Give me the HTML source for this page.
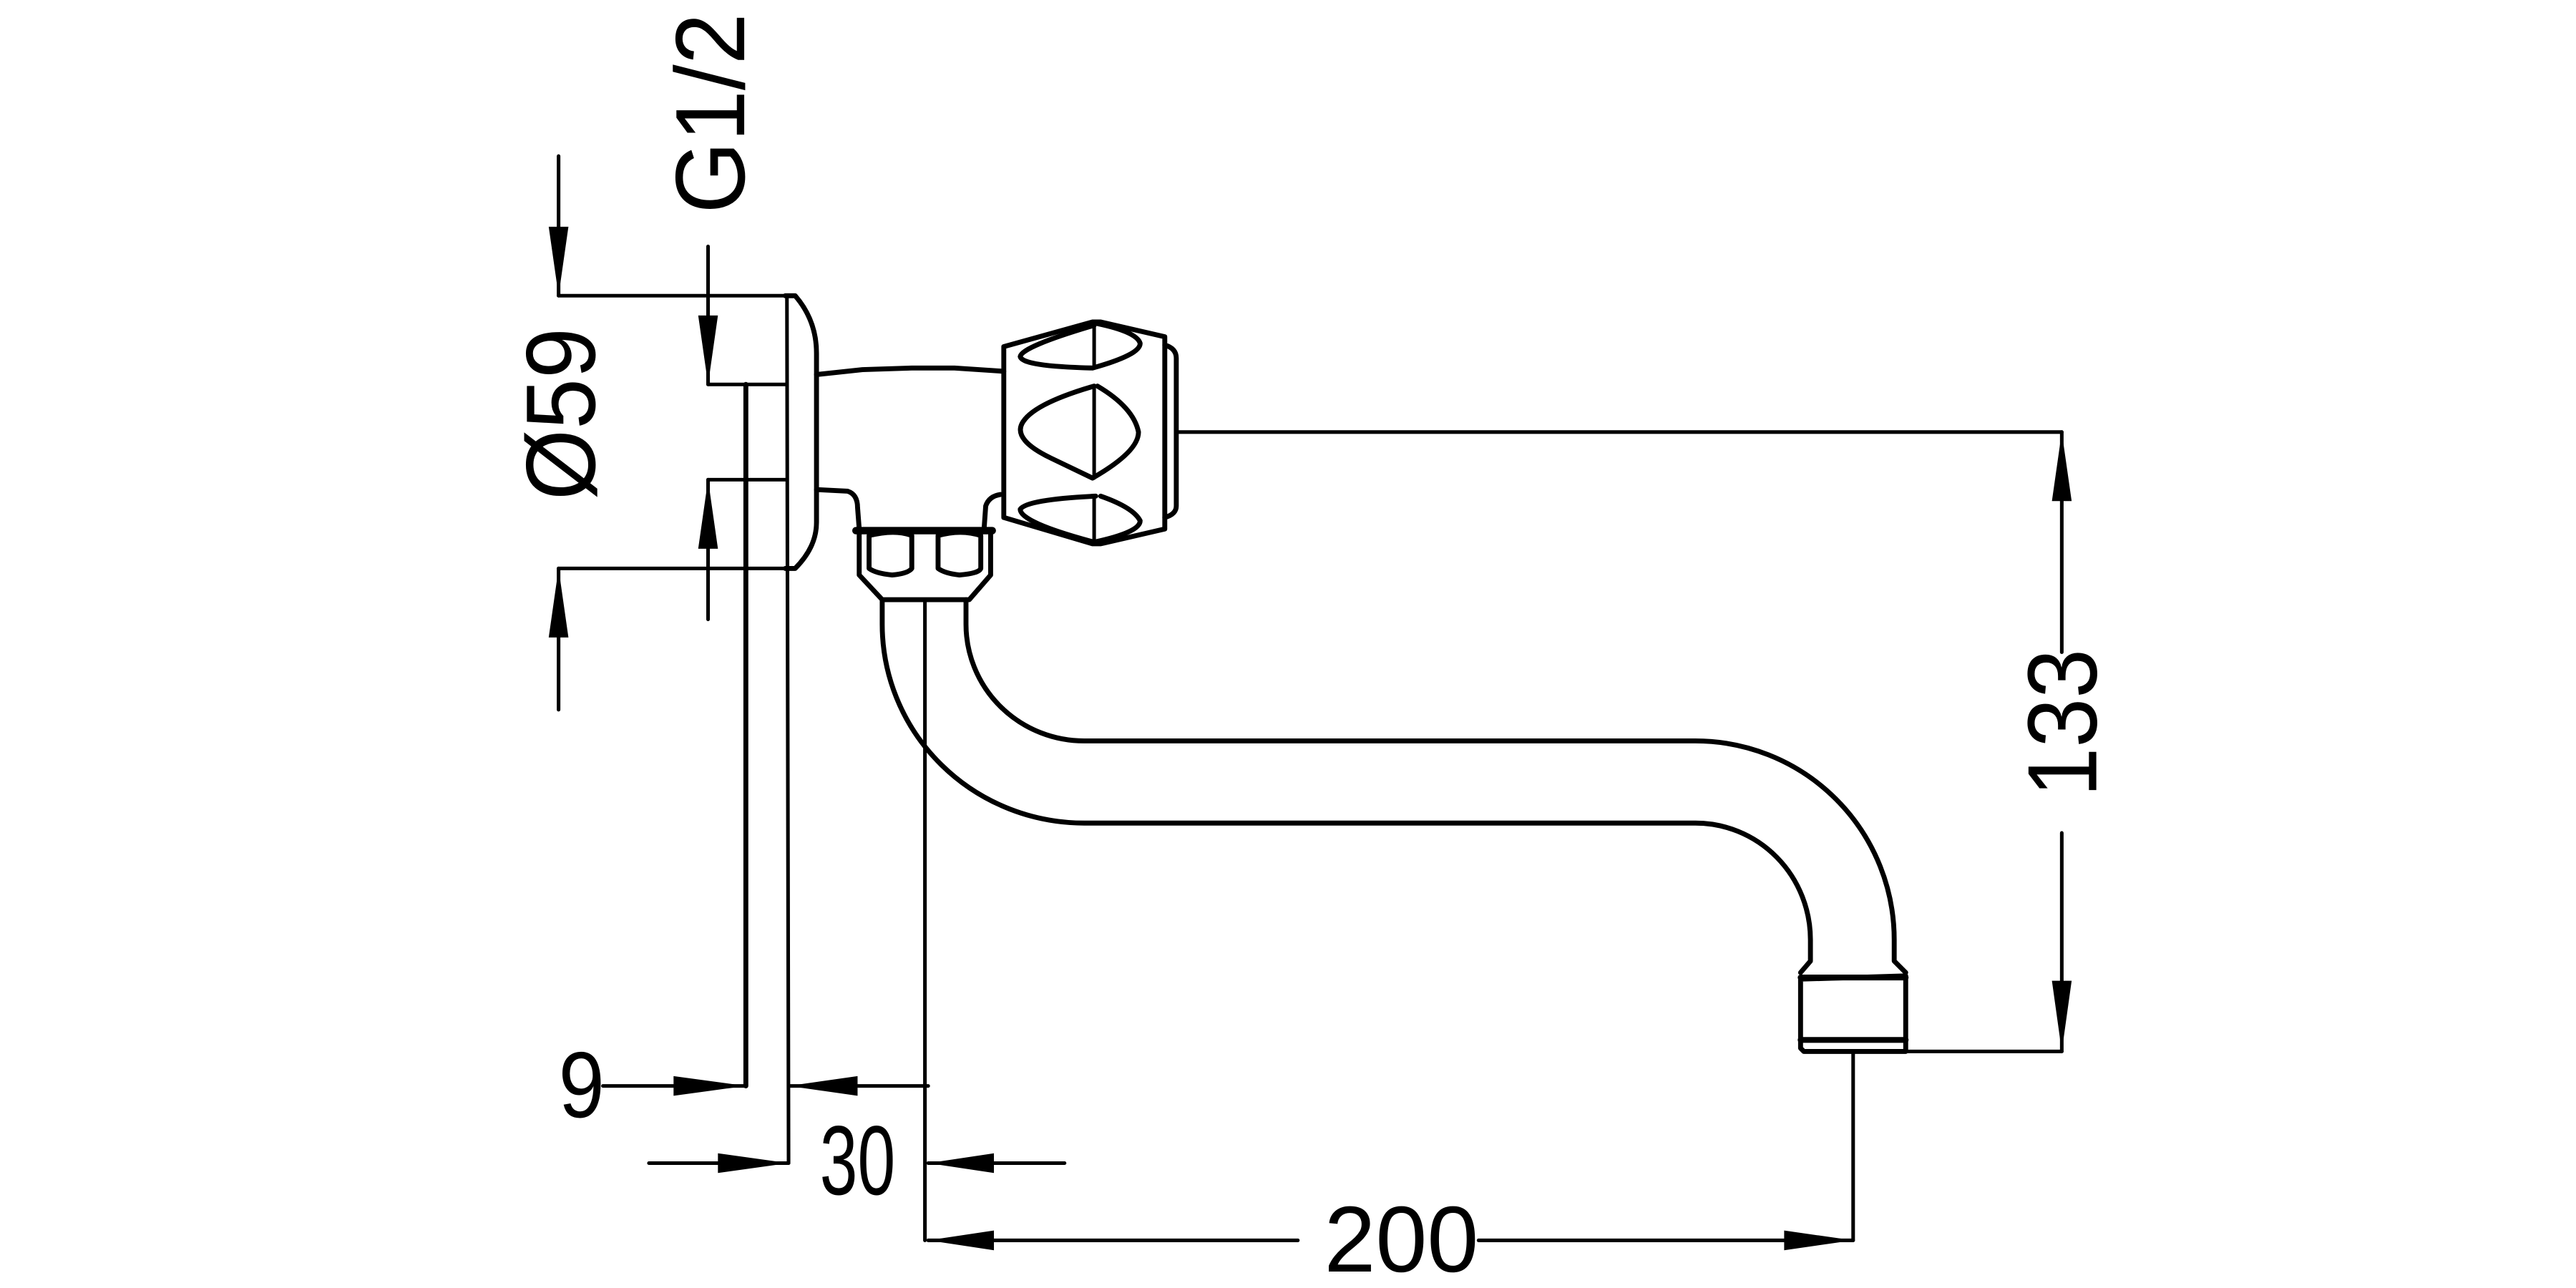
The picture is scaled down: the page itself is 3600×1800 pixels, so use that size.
<!DOCTYPE html>
<html><head><meta charset="utf-8"><style>
html,body{margin:0;padding:0;background:#fff;}
svg{display:block;}
text{font-family:"Liberation Sans",sans-serif;fill:#000;}
</style></head><body>
<svg width="3600" height="1800" viewBox="0 0 1568 784" xmlns="http://www.w3.org/2000/svg">
<g fill="none" stroke="#000" stroke-width="2.2" stroke-linejoin="round" stroke-linecap="round">
<!-- Ø59 dim -->
<line x1="340" y1="95" x2="340" y2="180"/>
<line x1="340" y1="180" x2="478" y2="180"/>
<line x1="340" y1="346" x2="478" y2="346"/>
<line x1="340" y1="346" x2="340" y2="432"/>
<!-- G1/2 dim -->
<line x1="431" y1="150" x2="431" y2="234"/>
<line x1="431" y1="234" x2="478" y2="234"/>
<line x1="431" y1="292" x2="478" y2="292"/>
<line x1="431" y1="292" x2="431" y2="377"/>
<!-- wall plate -->
<line x1="479" y1="180" x2="480" y2="708"/>
<line x1="454" y1="234" x2="454" y2="661" stroke-width="3"/>
<path d="M478,180 L484,180 Q497,195 497,215 L497,318 Q497,333 484,346 L478,346" stroke-width="3"/>
<!-- body -->
<path d="M497,228 L525,225 L555,224 L581,224 L611,226" stroke-width="3"/>
<path d="M497,298 L516,299 Q522,301 522,309 L523,322" stroke-width="3"/>
<path d="M599,322 L600,308 Q602,302 609,301" stroke-width="3"/>
<!-- nut -->
<line x1="521" y1="323" x2="604" y2="323" stroke-width="4.5"/>
<path d="M523,323 L523,350 L537,365 L590,365 L603,350 L603,323" stroke-width="3"/>
<path d="M529,326 L529,346 Q533,349 543,350 Q553,349 555,346 L555,326 Q545,322 529,326 Z" stroke-width="3"/>
<path d="M571,326 L571,346 Q575,349 584,350 Q596,349 597,346 L597,326 Q585,322 571,326 Z" stroke-width="3"/>
<!-- pipe -->
<path d="M537,365 L537,380 A123,121 0 0 0 660,501 L1032,501 A70,71 0 0 1 1102,572 L1102,585 L1096,592" stroke-width="3"/>
<path d="M588,365 L588,380 A72,71 0 0 0 660,451 L1032,451 A121,121 0 0 1 1153,572 L1153,585 L1160,592" stroke-width="3"/>
<path d="M1096,596 L1096,638 L1098,640 L1160,640 L1160,594 Z" stroke-width="3"/>
<line x1="1096" y1="595" x2="1160" y2="595" stroke-width="3.5"/>
<line x1="1096" y1="633" x2="1160" y2="633" stroke-width="3.5"/>
<line x1="563" y1="365" x2="563" y2="755"/>
<!-- handle -->
<path d="M611,211 L665,196 L670,196 L709,205 L709,322 L670,331 L665,331 L611,315 Z" stroke-width="3"/>
<path d="M709,210 Q716,212 716,218 L716,308 Q716,313 709,315" stroke-width="3"/>
<line x1="666" y1="198" x2="666" y2="224"/>
<path d="M666,198 Q622,211 621,217 Q622,223 665,224 Q694,216 694,209 Q692,202 668,197" stroke-width="3"/>
<line x1="666" y1="235" x2="666" y2="291"/>
<path d="M666,235 Q628,246 622,258 Q617,268 640,279 L665,291 Q693,275 693,263 Q690,248 668,235" stroke-width="3"/>
<line x1="666" y1="302" x2="666" y2="329"/>
<path d="M667,302 Q625,304 621,310 Q621,318 666,330 Q694,324 694,317 Q690,309 670,302" stroke-width="3"/>
<!-- 133 dim -->
<line x1="716" y1="263" x2="1255" y2="263"/>
<line x1="1255" y1="263" x2="1255" y2="397"/>
<line x1="1255" y1="507" x2="1255" y2="640"/>
<line x1="1160" y1="640" x2="1255" y2="640"/>
<!-- 9 dim -->
<line x1="367" y1="661" x2="454" y2="661"/>
<line x1="480" y1="661" x2="565" y2="661"/>
<!-- 30 dim -->
<line x1="395" y1="708" x2="480" y2="708"/>
<line x1="565" y1="708" x2="648" y2="708"/>
<!-- 200 dim -->
<line x1="1128" y1="640" x2="1128" y2="755"/>
<line x1="565" y1="755" x2="790" y2="755"/>
<line x1="900" y1="755" x2="1128" y2="755"/>
</g>
<g fill="#000">
<polygon points="340,180 334,138 346,138"/>
<polygon points="340,346 334,388 346,388"/>
<polygon points="431,234 425,192 437,192"/>
<polygon points="431,292 425,334 437,334"/>
<polygon points="1255,263 1249,305 1261,305"/>
<polygon points="1255,640 1249,597 1261,597"/>
<polygon points="454,661 410,655 410,667"/>
<polygon points="480,661 522,655 522,667"/>
<polygon points="480,708 437,702 437,714"/>
<polygon points="565,708 605,702 605,714"/>
<polygon points="565,755 605,749 605,761"/>
<polygon points="1128,755 1086,749 1086,761"/>
</g>
<text transform="translate(362,252) rotate(-90)" font-size="60" text-anchor="middle" textLength="105" lengthAdjust="spacingAndGlyphs">Ø59</text>
<text transform="translate(453,69) rotate(-90)" font-size="60" text-anchor="middle" textLength="122" lengthAdjust="spacingAndGlyphs">G1/2</text>
<text transform="translate(1276,440) rotate(-90)" font-size="60" text-anchor="middle" textLength="90" lengthAdjust="spacingAndGlyphs">133</text>
<text x="340" y="680" font-size="57" textLength="28" lengthAdjust="spacingAndGlyphs">9</text>
<text x="499" y="727" font-size="60" textLength="46" lengthAdjust="spacingAndGlyphs">30</text>
<text x="806" y="774" font-size="57" textLength="94" lengthAdjust="spacingAndGlyphs">200</text>
</svg>
</body></html>
